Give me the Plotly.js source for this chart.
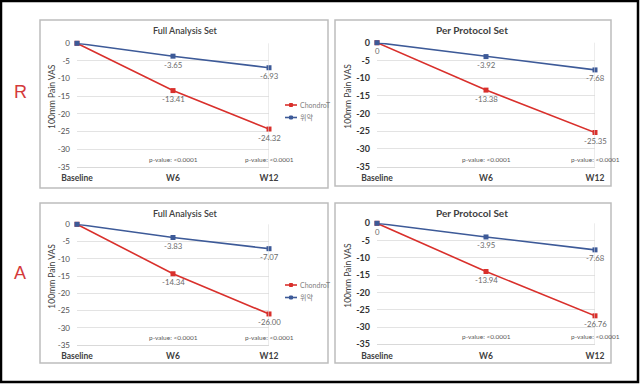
<!DOCTYPE html>
<html>
<head>
<meta charset="utf-8">
<script src="https://cdn.plot.ly/plotly-3.0.1.min.js"></script>
<style>html,body{margin:0;padding:0;background:#fff;}#chart{width:640px;height:384px;}</style>
</head>
<body>
<div id="chart"></div>
<script>
// ---- data ----
const categories = ['Baseline', 'W6', 'W12'];
const seriesNames = ['ChondroT', '위약'];
const chondroR_FAS = [0, -13.41, -24.32];
const placeboR_FAS = [0, -3.65, -6.93];
const chondroR_PPS = [0, -13.38, -25.35];
const placeboR_PPS = [0, -3.92, -7.68];
const chondroA_FAS = [0, -14.34, -26.00];
const placeboA_FAS = [0, -3.83, -7.07];
const chondroA_PPS = [0, -13.94, -26.76];
const placeboA_PPS = [0, -3.95, -7.68];
const yTicks = [0, -5, -10, -15, -20, -25, -30, -35];
const pValueLabels = ['p-value: <0.0001', 'p-value: <0.0001'];
const panelTitles = ['Full Analysis Set', 'Per Protocol Set', 'Full Analysis Set', 'Per Protocol Set'];
const rowLabels = ['R', 'A'];
const yTitle = '100mm Pain VAS';

// ---- styling ----
const RED = '#d9302c';
const BLUE = '#3d5a98';
const FONT = 'Lato, "Noto Sans", "Noto Sans CJK KR", sans-serif';
const W = 640, H = 384;
const px = x => x / W;
const py = y => 1 - y / H;

const panels = [
  {pa: [77, 269, 43.3, 166.7], box: [40, 328, 20, 188], ppsStyle: false, legend: [285, 105]},
  {pa: [377, 595, 42.7, 166.7], box: [335, 611, 20, 186], ppsStyle: true},
  {pa: [77, 269, 224.3, 345], box: [40, 328, 203, 363], ppsStyle: false, legend: [285, 285]},
  {pa: [377, 595, 223.3, 344.3], box: [335, 611, 203, 363], ppsStyle: true}
];
const panelData = [
  [chondroR_FAS, placeboR_FAS],
  [chondroR_PPS, placeboR_PPS],
  [chondroA_FAS, placeboA_FAS],
  [chondroA_PPS, placeboA_PPS]
];

const fmt = v => (v === 0 ? '' : v.toFixed(2));

const traces = [];
const layout = {
  width: W, height: H,
  margin: {l: 0, r: 0, t: 0, b: 0},
  paper_bgcolor: '#ffffff', plot_bgcolor: '#ffffff',
  showlegend: false,
  font: {family: FONT, color: '#595959'},
  shapes: [], annotations: []
};

panels.forEach((p, i) => {
  const n = i + 1;
  const xk = n === 1 ? 'x' : 'x' + n;
  const yk = n === 1 ? 'y' : 'y' + n;
  const [ch, pl] = panelData[i];
  const chText = ch.map(fmt);
  const plText = pl.map(fmt);
  if (p.ppsStyle) plText[0] = String(pl[0]);
  [[ch, RED, seriesNames[0], chText], [pl, BLUE, seriesNames[1], plText]].forEach(([vals, col, name, txt]) => {
    traces.push({
      type: 'scatter', mode: 'lines+markers', name: name,
      x: categories, y: vals,
      line: {color: col, width: 1.6}, marker: {color: col, size: 5, symbol: 'square'},
      xaxis: xk, yaxis: yk, cliponaxis: false, hoverinfo: 'skip'
    });
    vals.forEach((v, k) => {
      if (!txt[k]) return;
      layout.annotations.push({xref: xk, yref: yk, x: k, y: v, yshift: -8.5,
        text: txt[k], showarrow: false, xanchor: 'center', yanchor: 'middle',
        font: {size: 7.8, color: '#6b6b6b', family: FONT}});
    });
  });

  const tickFont = p.ppsStyle
    ? {size: 9, color: '#333333', family: FONT, weight: 'bold'}
    : {size: 8, color: '#505050', family: FONT};
  layout['xaxis' + (n === 1 ? '' : n)] = {
    domain: [px(p.pa[0]), px(p.pa[1])], anchor: yk,
    type: 'category', range: [0, 2], showgrid: false, zeroline: false,
    showline: true, linecolor: '#d9d9d9', linewidth: 1, ticks: '',
    tickfont: {size: 8.5, color: '#404040', family: FONT, weight: 'bold'},
    ticklabelstandoff: 3, fixedrange: true
  };
  layout['yaxis' + (n === 1 ? '' : n)] = {
    domain: [py(p.pa[3]), py(p.pa[2])], anchor: xk,
    range: [-35, 0], tickvals: yTicks, ticktext: yTicks.map(String),
    showgrid: true, gridcolor: '#e3e3e3', gridwidth: 1, zeroline: false,
    showline: false, ticks: '', tickfont: tickFont, ticklabelstandoff: 6,
    fixedrange: true
  };

  layout.shapes.push({type: 'line', xref: xk, yref: yk + ' domain', x0: 2, x1: 2, y0: 0, y1: 1,
    line: {color: '#d9d9d9', width: 1}});
  layout.shapes.push({type: 'rect', xref: 'paper', yref: 'paper',
    x0: px(p.box[0]), x1: px(p.box[1]), y0: py(p.box[3]), y1: py(p.box[2]),
    line: {color: '#bdbdbd', width: 1.5}, layer: 'below'});

  layout.annotations.push({xref: 'paper', yref: 'paper',
    x: px((p.box[0] + p.box[1]) / 2 + (p.ppsStyle ? -1 : 1)), y: py(p.box[2] + 10),
    text: panelTitles[i], showarrow: false, xanchor: 'center', yanchor: 'middle',
    font: {size: p.ppsStyle ? 10 : 9, color: '#404040', family: FONT, weight: p.ppsStyle ? 'bold' : 600}});
  layout.annotations.push({xref: 'paper', yref: 'paper',
    x: px(p.ppsStyle ? 348 : 52), y: py((p.pa[2] + p.pa[3]) / 2 - 8),
    text: yTitle, textangle: -90, showarrow: false, xanchor: 'center', yanchor: 'middle',
    font: {size: 8.5, color: '#404040', family: FONT}});
  pValueLabels.forEach((t, j) => {
    layout.annotations.push({xref: xk, yref: yk, x: j + 1, y: -35, yshift: 2,
      text: t, showarrow: false, xanchor: 'center', yanchor: 'bottom',
      font: {size: 6.5, color: '#595959', family: FONT}});
  });

  if (p.legend) {
    const [lx, ly] = p.legend;
    seriesNames.forEach((name, j) => {
      const yy = ly + j * 12.5;
      const col = j === 0 ? RED : BLUE;
      layout.shapes.push({type: 'line', xref: 'paper', yref: 'paper',
        x0: px(lx), x1: px(lx + 12), y0: py(yy), y1: py(yy), line: {color: col, width: 1.6}});
      layout.shapes.push({type: 'rect', xref: 'paper', yref: 'paper',
        x0: px(lx + 4.5), x1: px(lx + 7.5), y0: py(yy + 1.5), y1: py(yy - 1.5),
        line: {color: col, width: 1}, fillcolor: col});
      layout.annotations.push({xref: 'paper', yref: 'paper', x: px(lx + 13), y: py(yy),
        text: name, showarrow: false, xanchor: 'left', yanchor: 'middle',
        font: {size: 7, color: '#7f7f7f', family: FONT}});
    });
  }
});

layout.annotations.push({xref: 'paper', yref: 'paper', x: px(20), y: py(92), text: rowLabels[0],
  showarrow: false, xanchor: 'center', yanchor: 'middle',
  font: {size: 18, color: '#d43a3a', family: '"Liberation Sans", Arial, sans-serif'}});
layout.annotations.push({xref: 'paper', yref: 'paper', x: px(20), y: py(273), text: rowLabels[1],
  showarrow: false, xanchor: 'center', yanchor: 'middle',
  font: {size: 18, color: '#d43a3a', family: '"Liberation Sans", Arial, sans-serif'}});

layout.shapes.push({type: 'rect', xref: 'paper', yref: 'paper',
  x0: px(1), x1: px(638), y0: py(382), y1: py(1),
  line: {color: '#000000', width: 2.5}});

Plotly.newPlot('chart', traces, layout, {staticPlot: true, displayModeBar: false});
</script>
</body>
</html>
